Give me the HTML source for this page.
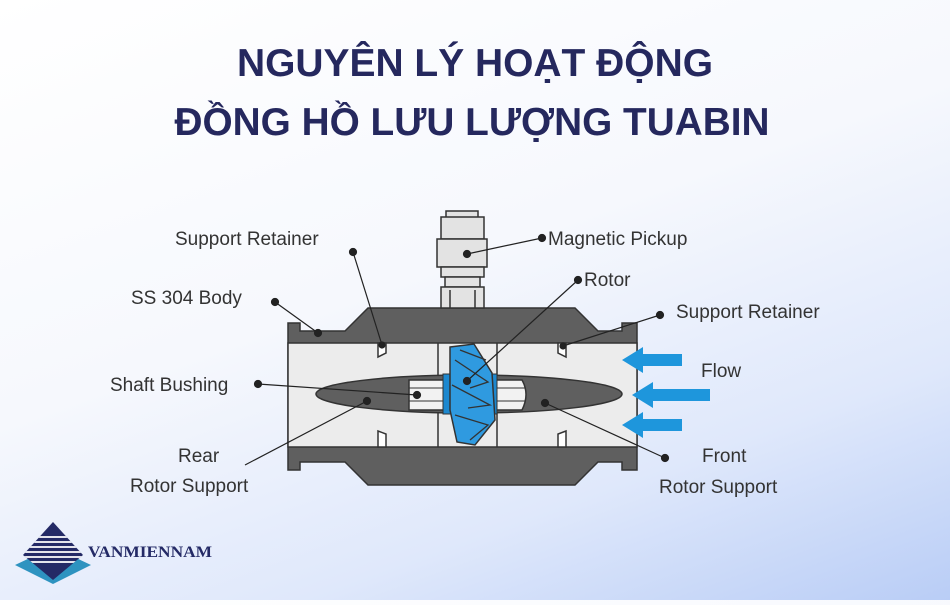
<!DOCTYPE html>
<html><head><meta charset="utf-8"><style>
body{margin:0;width:950px;height:600px;overflow:hidden;background:linear-gradient(160deg,#ffffff 0%,#f6f8fd 45%,#dfe8fb 75%,#b9cdf6 100%);font-family:"Liberation Sans",sans-serif}
</style></head><body>
<svg width="950" height="600" viewBox="0 0 950 600" xmlns="http://www.w3.org/2000/svg">
<defs><clipPath id="dia"><path d="M53 522 L83 555 L53 580 L23 555Z"/></clipPath></defs>
<g font-family="Liberation Sans, DejaVu Sans, sans-serif" font-weight="bold" fill="#25285e" font-size="39" text-anchor="middle">
<text x="475" y="76" textLength="476" lengthAdjust="spacingAndGlyphs">NGUYÊN LÝ HOẠT ĐỘNG</text>
<text x="472" y="135" textLength="595" lengthAdjust="spacingAndGlyphs">ĐỒNG HỒ LƯU LƯỢNG TUABIN</text>
</g>
<!-- body -->
<path d="M288 323 L300 323 L300 331 L345 331 L368 308 L575 308 L598 331 L622 331 L622 323 L637 323 L637 470 L622 470 L622 462 L598 462 L575 485 L368 485 L345 462 L300 462 L300 470 L288 470Z" fill="#5f5f5f" stroke="#333" stroke-width="1.5"/>
<rect x="288" y="343" width="349" height="104" fill="#ececec" stroke="#333" stroke-width="1.5"/>
<line x1="438" y1="343" x2="438" y2="447" stroke="#333" stroke-width="1.5"/>
<line x1="497" y1="343" x2="497" y2="447" stroke="#333" stroke-width="1.5"/>
<g fill="#fff" stroke="#333" stroke-width="1.5">
<path d="M378 343 L386 343 L386 353 L378 357Z"/><path d="M378 447 L386 447 L386 434 L378 431Z"/>
<path d="M558 343 L566 343 L566 357 L558 353Z"/><path d="M558 447 L566 447 L566 431 L558 434Z"/>
</g>
<g fill="#e3e3e3" stroke="#333" stroke-width="1.5">
<rect x="446" y="211" width="32" height="7"/>
<rect x="441" y="217" width="43" height="22"/>
<rect x="437" y="239" width="50" height="28"/>
<rect x="441" y="267" width="43" height="10"/>
<rect x="445" y="277" width="35" height="10"/>
<rect x="441" y="287" width="43" height="21"/>
<line x1="450" y1="290" x2="450" y2="308"/><line x1="475" y1="290" x2="475" y2="308"/>
</g>
<ellipse cx="469" cy="394" rx="153" ry="19" fill="#5f5f5f" stroke="#333" stroke-width="1.5"/>
<path d="M409 380 L522 380 Q530 394 522 410 L409 410Z" fill="#f2f2f2" stroke="#333" stroke-width="1.5"/>
<line x1="409" y1="388" x2="525" y2="388" stroke="#333"/><line x1="409" y1="401" x2="525" y2="401" stroke="#333"/>
<rect x="443" y="374" width="54" height="40" fill="#1d88cf" stroke="#333"/>
<path d="M450 347 L474 344 L492 373 L495 420 L475 445 L457 442 L450 410Z" fill="#2f9ae0" stroke="#333" stroke-width="1.5"/>
<g stroke="#333" fill="none" stroke-width="1.3"><path d="M455 360 L488 382 L470 388"/><path d="M452 385 L490 405 L468 408"/><path d="M455 415 L488 425 L470 440"/><path d="M460 350 L486 360"/></g>
<g fill="#1e96dc">
<path d="M622 360 L643 347 L643 354 L682 354 L682 366 L643 366 L643 373Z"/>
<path d="M632 395 L653 382 L653 389 L710 389 L710 401 L653 401 L653 408Z"/>
<path d="M622 425 L643 412 L643 419 L682 419 L682 431 L643 431 L643 438Z"/>
</g>
<g stroke="#222" stroke-width="1.2" fill="#222">
<line x1="353" y1="252" x2="382" y2="345"/><circle cx="353" cy="252" r="3.5"/><circle cx="382" cy="345" r="3"/>
<line x1="275" y1="302" x2="318" y2="333"/><circle cx="275" cy="302" r="3.5"/><circle cx="318" cy="333" r="3.5"/>
<line x1="542" y1="238" x2="467" y2="254"/><circle cx="542" cy="238" r="3.5"/><circle cx="467" cy="254" r="3.5"/>
<line x1="578" y1="280" x2="467" y2="381"/><circle cx="578" cy="280" r="3.5"/><circle cx="467" cy="381" r="3.5"/>
<line x1="660" y1="315" x2="563" y2="346"/><circle cx="660" cy="315" r="3.5"/><circle cx="563" cy="346" r="3"/>
<line x1="258" y1="384" x2="417" y2="395"/><circle cx="258" cy="384" r="3.5"/><circle cx="417" cy="395" r="3.5"/>
<line x1="245" y1="465" x2="367" y2="401"/><circle cx="367" cy="401" r="3.5"/>
<line x1="545" y1="403" x2="665" y2="458"/><circle cx="545" cy="403" r="3.5"/><circle cx="665" cy="458" r="3.5"/>
</g>
<g font-family="Liberation Sans, DejaVu Sans, sans-serif" font-size="19" fill="#333">
<text x="175" y="245">Support Retainer</text>
<text x="131" y="304">SS 304 Body</text>
<text x="110" y="391">Shaft Bushing</text>
<text x="178" y="462">Rear</text>
<text x="130" y="492">Rotor Support</text>
<text x="548" y="245">Magnetic Pickup</text>
<text x="584" y="286">Rotor</text>
<text x="676" y="318">Support Retainer</text>
<text x="701" y="377">Flow</text>
<text x="702" y="462">Front</text>
<text x="659" y="493">Rotor Support</text>
</g>
<g>
<path d="M15 565 L32 557 L53 575 L74 557 L91 565 L53 584Z" fill="#2e93c0"/>
<path d="M53 522 L83 555 L53 580 L23 555Z" fill="#242a66"/>
<g clip-path="url(#dia)" stroke="#fff" stroke-width="1.8"><line x1="20" y1="537" x2="90" y2="537"/><line x1="20" y1="542" x2="90" y2="542"/><line x1="20" y1="547" x2="90" y2="547"/><line x1="20" y1="552" x2="90" y2="552"/><line x1="20" y1="557" x2="90" y2="557"/><line x1="20" y1="562" x2="90" y2="562"/></g>
<text x="88" y="557" font-family="Liberation Serif, serif" font-weight="bold" font-size="16" fill="#242a66" textLength="124" lengthAdjust="spacingAndGlyphs">VANMIENNAM</text>
</g>
</svg>
</body></html>
